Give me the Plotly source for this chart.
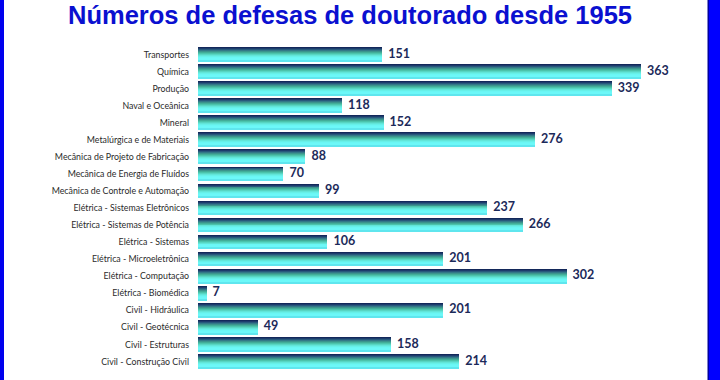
import plotly.graph_objects as go

title = "Números de defesas de doutorado desde 1955"
categories = [
    "Transportes", "Química", "Produção", "Naval e Oceânica", "Mineral",
    "Metalúrgica e de Materiais", "Mecânica de Projeto de Fabricação",
    "Mecânica de Energia de Fluídos", "Mecânica de Controle e Automação",
    "Elétrica - Sistemas Eletrônicos", "Elétrica - Sistemas de Potência",
    "Elétrica - Sistemas", "Elétrica - Microeletrônica", "Elétrica - Computação",
    "Elétrica - Biomédica", "Civil - Hidráulica", "Civil - Geotécnica",
    "Civil - Estruturas", "Civil - Construção Civil",
]
values = [151, 363, 339, 118, 152, 276, 88, 70, 99, 237, 266, 106, 201, 302, 7, 201, 49, 158, 214]

# gradient stripes, top to bottom
stripe_colors = [
    "#13285a", "#1d3c6c", "#28597c", "#337888", "#3b948d", "#42ad99",
    "#4bc3ab", "#57d5c2", "#61e5d8", "#66f0e8", "#6af6f4", "#6cf8f8",
    "#6cf8f8", "#5fe6ee",
]

cats = categories[::-1]
vals = values[::-1]

bar_w = 0.8
n = len(stripe_colors)
sw = bar_w / n

fig = go.Figure()
for i, c in enumerate(stripe_colors):
    fig.add_trace(go.Bar(
        x=vals, y=cats, orientation="h",
        width=sw * 1.05, offset=bar_w / 2 - (i + 1) * sw,
        marker=dict(color=c, line=dict(width=0)),
        hoverinfo="skip", showlegend=False,
    ))

fig.add_trace(go.Scatter(
    x=vals, y=cats, mode="text", text=["\u00a0\u00a0" + str(v) for v in vals],
    textposition="middle right",
    textfont=dict(family="Lato", size=12.5, color="#1c2a5a", weight="bold"),
    showlegend=False, hoverinfo="skip", cliponaxis=False,
))

L, R, T, B = 198, 10, 46, 10
W, H = 720, 380
pw, ph = W - L - R, H - T - B

def px(x):
    return (x - L) / pw

def py(y):
    return (H - B - y) / ph

fig.update_layout(
    width=W, height=H,
    margin=dict(l=L, r=R, t=T, b=B),
    paper_bgcolor="white", plot_bgcolor="white",
    barmode="overlay", bargap=0,
    title=dict(text=title, x=350 / W, xref="container", y=1 - 15 / H, yref="container",
               yanchor="middle", xanchor="center",
               font=dict(family="Liberation Sans", size=25.5, color="#0a10d0", weight="bold")),
    xaxis=dict(range=[0, pw / 1.2204], visible=False, fixedrange=True),
    yaxis=dict(type="category", range=[-0.5, len(cats) - 0.5], showgrid=False,
               zeroline=False, showline=False, ticks="", ticklabelstandoff=8,
               tickfont=dict(family="Lato", size=8.8, color="#2a2a2a")),
    shapes=[
        dict(type="rect", xref="paper", yref="paper", x0=px(0), x1=px(4),
             y0=py(380), y1=py(0), fillcolor="#0000ee", line=dict(width=0), layer="above"),
        dict(type="rect", xref="paper", yref="paper", x0=px(708), x1=px(720),
             y0=py(380), y1=py(0), fillcolor="#0000ff", line=dict(width=0), layer="above"),
        dict(type="rect", xref="paper", yref="paper", x0=px(707.5), x1=px(709),
             y0=py(380), y1=py(0), fillcolor="#0000a0", line=dict(width=0), layer="above"),
    ],
)

fig.write_html("out.html", config={"displayModeBar": False},
               post_script="document.body.style.margin='0';document.body.style.overflow='hidden';")
